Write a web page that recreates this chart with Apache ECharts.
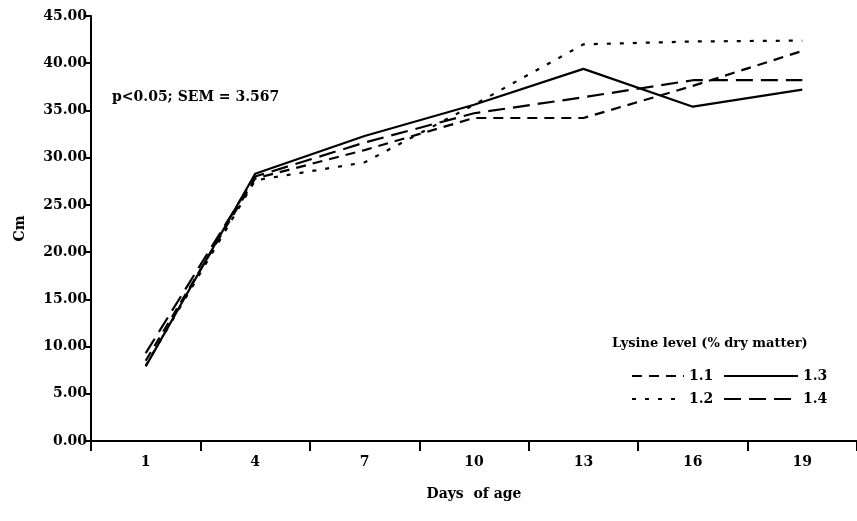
<!DOCTYPE html>
<html>
<head>
<meta charset="utf-8">
<script src="https://cdn.jsdelivr.net/npm/echarts@6/dist/echarts.min.js"></script>
<style>
  html, body { margin: 0; padding: 0; background: #fff; }
  #chart { width: 857px; height: 521px; }
</style>
</head>
<body>
<div id="chart"></div>
<script>
// days of age (x categories)
const days = ['1', '4', '7', '10', '13', '16', '19'];
// body length (cm) per lysine level
const lys11 = [8.5, 27.8, 30.8, 34.2, 34.2, 37.6, 41.3];
const lys12 = [8.0, 27.6, 29.5, 35.6, 42.0, 42.3, 42.4];
const lys13 = [7.9, 28.3, 32.3, 35.6, 39.4, 35.4, 37.2];
const lys14 = [9.3, 28.0, 31.6, 34.7, 36.4, 38.2, 38.2];

const FONT = '"DejaVu Serif", "Liberation Serif", serif';
const txt = { color: '#000', fontFamily: FONT, fontWeight: 'bold', fontSize: 14 };

const mk = (name, data, type) => ({
  name,
  type: 'line',
  data,
  symbol: 'none',
  animation: false,
  itemStyle: { color: '#000' },
  lineStyle: { color: '#000', width: 2.2, type }
});

const myChart = echarts.init(document.getElementById('chart'));
const option = {
  animation: false,
  backgroundColor: '#fff',
  grid: { left: 91, right: -10, top: 16, bottom: 80 },
  xAxis: {
    type: 'category',
    data: days,
    boundaryGap: true,
    name: 'Days  of age',
    nameLocation: 'middle',
    nameGap: 46,
    nameTextStyle: txt,
    axisLine: { show: true, lineStyle: { color: '#000', width: 2 } },
    axisTick: { show: true, interval: 0, alignWithLabel: false, inside: false, length: 10, lineStyle: { color: '#000', width: 2 } },
    axisLabel: Object.assign({ margin: 14 }, txt),
    splitLine: { show: false }
  },
  yAxis: {
    type: 'value',
    min: 0,
    max: 45,
    interval: 5,
    name: 'Cm',
    nameLocation: 'middle',
    nameGap: 64,
    nameTextStyle: txt,
    axisLine: { show: true, lineStyle: { color: '#000', width: 2 } },
    axisTick: { show: true, length: 5, lineStyle: { color: '#000', width: 2 } },
    axisLabel: Object.assign({ margin: 4, formatter: v => v.toFixed(2) }, txt),
    splitLine: { show: false }
  },
  legend: [
    {
      orient: 'vertical',
      left: 626,
      top: 364,
      itemWidth: 52,
      itemHeight: 10,
      itemGap: 9,
      itemStyle: { opacity: 0 },
      textStyle: txt,
      data: ['1.1', '1.2']
    },
    {
      orient: 'vertical',
      left: 718,
      top: 364,
      itemWidth: 74,
      itemHeight: 10,
      itemGap: 9,
      itemStyle: { opacity: 0 },
      textStyle: txt,
      data: ['1.3', '1.4']
    }
  ],
  graphic: [
    {
      type: 'text', left: 612, top: 337,
      style: { text: 'Lysine level (% dry matter)', fill: '#000', font: 'bold 13px ' + FONT }
    },
    {
      type: 'text', left: 112, top: 90,
      style: { text: 'p<0.05; SEM = 3.567', fill: '#000', font: 'bold 14px ' + FONT }
    }
  ],
  series: [
    mk('1.1', lys11, [10, 7]),
    mk('1.2', lys12, [4, 9]),
    mk('1.3', lys13, 'solid'),
    mk('1.4', lys14, [17, 8])
  ]
};
myChart.setOption(option);
</script>
</body>
</html>
